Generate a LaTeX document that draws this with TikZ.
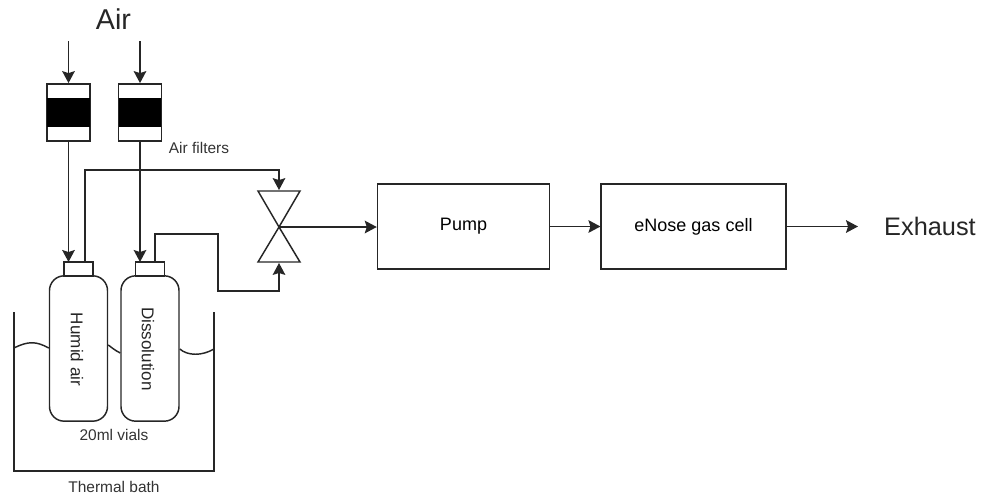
\documentclass[tikz,border=0pt]{standalone}
\usepackage{fontspec}
\setmainfont{Liberation Sans}
\usetikzlibrary{positioning,arrows.meta,shapes.misc}

\begin{document}
\begin{tikzpicture}[x=0.75pt,y=-0.75pt,node distance=38pt,
    line/.style={draw=black!85,line width=1.1pt},
    flow/.style={line,-{Stealth[length=9pt,width=9.5pt,inset=1.5pt]}},
    block/.style={line,minimum width=129pt,minimum height=63.5pt,inner sep=0pt,font=\fontsize{13.5}{15}\selectfont},
    filterbox/.style={line,minimum width=32pt,minimum height=43pt,inner sep=0pt},
    filterband/.style={fill=black,draw=none,minimum width=32pt,minimum height=22pt,inner sep=0pt},
    vial/.style={line,rounded corners=11pt,minimum width=43.5pt,minimum height=109pt,inner sep=0pt},
    vialcap/.style={line,minimum width=21.5pt,minimum height=10.5pt,inner sep=0pt},
    tag/.style={inner sep=0pt,text=black!80,font=\fontsize{11.6}{13}\selectfont},
    vialtag/.style={inner sep=0pt,text=black!85,rotate=-90,font=\fontsize{12.8}{14}\selectfont},
    big/.style={inner sep=0pt,text=black!85,font=\fontsize{21.5}{23}\selectfont}]
    \useasboundingbox (0,0) rectangle (985,497);

    % air inlets and filters
    \node [big] (air) at (113.5,19) {Air};
    \coordinate (in1) at (68.5,41);
    \coordinate (in2) at (140,41);
    \node [filterbox] (f1) at (68.5,112.5) {};
    \node [filterbox] (f2) at (140,112.5) {};
    \node [filterband] at (f1) {};
    \node [filterband] at (f2) {};
    \node [tag] (ftag) at (199,148) {Air filters};

    % vials
    \node [vial] (v1) at (78.5,348.5) {};
    \node [vial] (v2) at (150,348.5) {};
    \node [vialcap] (c1) at (78.5,269) {};
    \node [vialcap] (c2) at (150,269) {};
    \node [vialtag] (t1) at (77,349.5) {Humid air};
    \node [vialtag] (t2) at (148,349) {Dissolution};
    \node [tag] (vtag) at (114,435) {20ml vials};

    % thermal bath
    \coordinate (b1) at (14,312);
    \coordinate (b2) at (14,471);
    \coordinate (b3) at (214,471);
    \coordinate (b4) at (214,312);
    \draw [line] (b1) -- (b2) -- (b3) -- (b4);
    \node [tag] (btag) at (114,487) {Thermal bath};
    \draw [line] (14,348) .. controls (28,341) and (36,341) .. (v1.west |- 0,348);
    \draw [line] (v1.east |- 0,345) .. controls (110,346) and (114,350) .. (v2.west |- 0,353);
    \draw [line] (v2.east |- 0,349) .. controls (188,356) and (202,356) .. (214,349);

    % valve
    \coordinate (vc) at (279,227);
    \node [inner sep=0pt] (vtop) at (279,191) {};
    \node [inner sep=0pt] (vbot) at (279,262) {};
    \draw [line] (vc) -- (258,191) -- (300,191) -- cycle;
    \draw [line] (vc) -- (258,262) -- (300,262) -- cycle;

    % blocks
    \node [block] (pump) at (463.5,226.5) {Pump};
    \node [block,minimum width=138.5pt] (cell) at (693.5,226.5) {eNose gas cell};
    \coordinate (out) at (858,226.5);
    \node [big,font=\fontsize{19}{21}\selectfont] (ex) at (930,226) {Exhaust};

    % connectors
    \draw [flow] (in1) -- (f1.north);
    \draw [flow] (in2) -- (f2);
    \draw [flow] (f1.south) -- (68.5,262);
    \draw [flow] (f2.south) -- (140,262);
    \draw [flow] (85,262) -- (85,170) -- (279,170) -- (vtop);
    \draw [flow] (155,262) -- (155,234) -- (218,234) -- (218,291) -- (279,291) -- (vbot);
    \draw [flow] (vc) -- (pump.west |- vc);
    \draw [flow] (pump) -- (cell);
    \draw [flow] (cell) -- (out);
\end{tikzpicture}
\end{document}
